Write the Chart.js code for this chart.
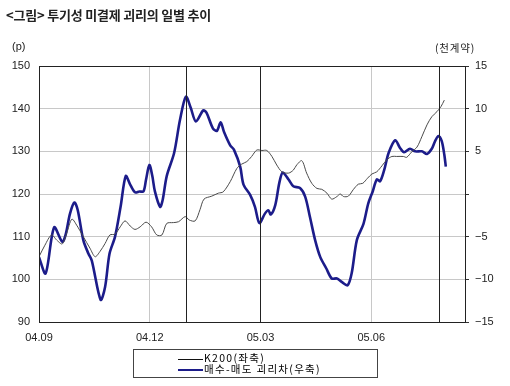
<!DOCTYPE html>
<html>
<head>
<meta charset="utf-8">
<script src="https://cdn.jsdelivr.net/npm/chart.js@4.4.1/dist/chart.umd.min.js"></script>
<style>
  body { margin: 0; background: #fff; font-family: "Noto Sans CJK KR", "Liberation Sans", sans-serif; }
  #wrap { position: relative; width: 510px; height: 386px; }
  canvas { position: absolute; left: 0; top: 0; }
  .txt { position: absolute; color: #222; white-space: nowrap; }
  #titulo { left: 6px; top: 5px; font-size: 13px; font-weight: bold; letter-spacing: -0.2px; }
  #unidadIzq { left: 12px; top: 40px; font-size: 11px; font-family: "Liberation Sans", sans-serif; }
  #unidadDer { left: 435px; top: 40px; font-size: 10.5px; letter-spacing: 0.8px; }
  #leyenda { position: absolute; left: 133px; top: 349px; width: 243px; height: 27px; border: 1px solid #444; font-size: 10.5px; }
  .fila { position: absolute; left: 44px; height: 12px; line-height: 12px; letter-spacing: 1.3px; }
  .muestra { display: inline-block; width: 25px; vertical-align: middle; margin-right: 1px; }
</style>
</head>
<body>
<div id="wrap">
  <canvas id="grafico" width="510" height="386"></canvas>
  <div class="txt" id="titulo">&lt;그림&gt; 투기성 미결제 괴리의 일별 추이</div>
  <div class="txt" id="unidadIzq">(p)</div>
  <div class="txt" id="unidadDer">(천계약)</div>
  <div id="leyenda"></div>
</div>
<script>
// eje x en meses contados desde 04.09
const etiquetasX = ["04.09", "04.12", "05.03", "05.06"];
const posicionesX = [0, 3, 6, 9];
// lineas verticales negras (eventos)
const marcasVerticales = [3.98, 6.0, 10.84];

// K200 (eje izquierdo, puntos)
const k200Mes = [0, 0.16, 0.34, 0.48, 0.63, 0.75, 0.89, 1.02, 1.20, 1.38, 1.52, 1.65, 1.79, 1.92, 2.06, 2.20, 2.33, 2.47, 2.60, 2.74,
  2.90, 3.05, 3.19, 3.33, 3.46, 3.64, 3.78, 3.96, 4.07, 4.23, 4.36, 4.47, 4.68, 4.86, 4.99, 5.18, 5.36, 5.49, 5.63, 5.76,
  5.90, 6.04, 6.17, 6.31, 6.44, 6.58, 6.76, 6.89, 6.98, 7.12, 7.25, 7.39, 7.53, 7.66, 7.80, 7.93, 8.07, 8.16, 8.25, 8.38,
  8.52, 8.65, 8.77, 8.90, 9.02, 9.15, 9.29, 9.42, 9.56, 9.69, 9.87, 9.96, 10.10, 10.24, 10.37, 10.51, 10.64, 10.78, 10.89, 10.98];
const k200Valor = [105.3, 108.0, 110.4, 109.2, 108.3, 110.8, 114.1, 112.7, 110.0, 107.3, 105.3, 106.5, 108.4, 110.4, 110.6, 112.3, 113.7, 112.5, 111.7, 112.3,
  113.4, 112.3, 110.4, 110.4, 113.1, 113.3, 113.5, 114.7, 113.9, 113.7, 116.3, 118.8, 119.5, 120.2, 120.5, 122.9, 126.0, 127.0, 127.6, 128.8,
  130.3, 130.2, 130.2, 128.8, 126.8, 125.2, 124.9, 125.6, 126.8, 127.8, 124.9, 122.5, 121.3, 121.1, 120.2, 118.8, 119.4, 120.0, 119.4, 119.5,
  121.1, 122.3, 122.5, 123.7, 124.7, 125.2, 126.6, 128.0, 128.8, 128.8, 128.8, 128.6, 129.9, 131.0, 133.4, 136.2, 138.1, 139.3, 140.5, 142.0];

// diferencia compra-venta (eje derecho, miles de contratos)
const difMes = [0, 0.18, 0.41, 0.63, 0.72, 0.84, 0.96, 1.05, 1.20, 1.34, 1.43, 1.67, 1.79, 1.91, 2.06, 2.21, 2.35, 2.47, 2.60, 2.72,
  2.83, 2.90, 2.99, 3.07, 3.14, 3.28, 3.35, 3.46, 3.66, 3.82, 3.98, 4.11, 4.25, 4.45, 4.54, 4.71, 4.82, 4.92, 5.01, 5.18,
  5.28, 5.45, 5.54, 5.72, 5.85, 5.97, 6.12, 6.21, 6.28, 6.40, 6.51, 6.60, 6.76, 6.89, 7.07, 7.21, 7.34, 7.48, 7.62, 7.78,
  7.93, 8.07, 8.20, 8.36, 8.47, 8.61, 8.79, 8.92, 9.04, 9.15, 9.24, 9.35, 9.47, 9.65, 9.78, 9.89, 10.05, 10.19, 10.37, 10.51,
  10.64, 10.73, 10.82, 10.91, 10.98, 11.02];
const difValor = [-7.4, -9.3, -3.9, -5.6, -4.8, -2.3, -1.0, -1.9, -5.4, -7.0, -7.8, -12.4, -10.9, -7.0, -5.0, -1.5, 2.1, 1.1, 0.2, 0.3,
  0.3, 1.7, 3.4, 2.1, 0.3, -1.5, -0.7, 2.1, 4.8, 8.7, 11.4, 10.1, 8.5, 9.8, 9.5, 7.7, 7.4, 8.4, 7.3, 5.7,
  5.2, 3.2, 1.1, -0.1, -1.5, -3.4, -2.3, -1.9, -2.4, -1.3, 1.3, 2.5, 1.7, 0.9, 0.7, -0.3, -2.7, -5.4, -7.4, -8.7,
  -9.9, -9.9, -10.3, -10.7, -9.3, -5.4, -3.5, -1.1, 0.3, 1.7, 1.5, 2.8, 4.8, 6.3, 5.4, 4.9, 5.3, 5.0, 5.0, 4.7,
  5.3, 6.2, 6.8, 6.2, 4.6, 3.2];

const series = [
  { label: "K200(좌축)", mes: k200Mes, valor: k200Valor, color: "#4a4a4a", ancho: 1, eje: "y" },
  { label: "매수-매도 괴리차(우축)", mes: difMes, valor: difValor, color: "#1c1c8a", ancho: 2.6, eje: "y1" }
];

// plugin para el marco y las lineas verticales negras
const marcoPlugin = {
  id: "marco",
  afterDraw(chart) {
    const { ctx, chartArea: a, scales } = chart;
    ctx.save();
    ctx.strokeStyle = "#222";
    ctx.lineWidth = 1;
    marcasVerticales.forEach(m => {
      const x = Math.round(scales.x.getPixelForValue(m)) + 0.5;
      ctx.beginPath();
      ctx.moveTo(x, a.top);
      ctx.lineTo(x, a.bottom);
      ctx.stroke();
    });
    ctx.strokeRect(Math.round(a.left) + 0.5, Math.round(a.top) + 0.5, Math.round(a.right - a.left), Math.round(a.bottom - a.top));
    ctx.restore();
  }
};

const fuenteTicks = { family: "'Liberation Sans', Arial, sans-serif", size: 11 };

new Chart(document.querySelector("#grafico"), {
  type: "line",
  data: {
    datasets: series.map(s => ({
      label: s.label,
      data: s.mes.map((m, i) => ({ x: m, y: s.valor[i] })),
      borderColor: s.color,
      borderWidth: s.ancho,
      pointRadius: 0,
      tension: 0.3,
      yAxisID: s.eje
    }))
  },
  options: {
    responsive: false,
    animation: false,
    layout: { padding: { top: 66, left: 0, right: 0, bottom: 0 } },
    plugins: { legend: { display: false }, tooltip: { enabled: false } },
    scales: {
      x: {
        type: "linear",
        min: 0,
        max: 11.54,
        afterBuildTicks: scale => { scale.ticks = posicionesX.map(v => ({ value: v })); },
        afterFit: scale => { scale.height = 64; },
        ticks: {
          color: "#222",
          font: fuenteTicks,
          padding: 9,
          maxRotation: 0,
          callback: v => etiquetasX[posicionesX.indexOf(v)]
        },
        grid: { color: "#c8c8c8", drawTicks: false },
        border: { display: false }
      },
      y: {
        position: "left",
        min: 90,
        max: 150,
        ticks: { stepSize: 10, color: "#222", font: fuenteTicks, padding: 9 },
        afterFit: scale => { scale.width = 39; },
        grid: { color: "#c8c8c8", drawTicks: false },
        border: { display: false }
      },
      y1: {
        position: "right",
        min: -15,
        max: 15,
        ticks: {
          stepSize: 5,
          color: "#222",
          font: fuenteTicks,
          padding: 6,
          callback: v => (v === 0 ? "" : v < 0 ? "\u2212" + Math.abs(v) : String(v))
        },
        afterFit: scale => { scale.width = 45; },
        grid: { drawOnChartArea: false, color: "#333", tickLength: 4 },
        border: { display: false }
      }
    }
  },
  plugins: [marcoPlugin]
});

// leyenda en html
const leyenda = document.querySelector("#leyenda");
series.forEach((s, i) => {
  const fila = document.createElement("div");
  fila.className = "fila";
  fila.style.top = (2 + i * 11) + "px";
  fila.innerHTML = `<span class="muestra" style="border-top:${s.ancho > 1 ? 2 : 1}px solid ${i === 0 ? "#111" : s.color}"></span>${s.label}`;
  leyenda.appendChild(fila);
});
</script>
</body>
</html>
